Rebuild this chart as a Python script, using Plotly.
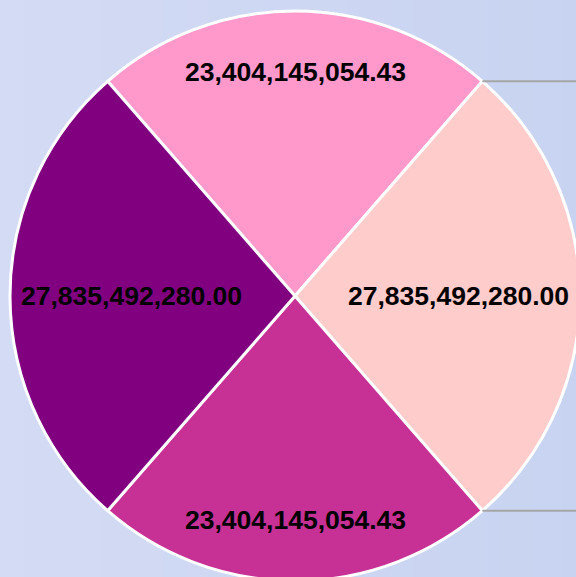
import math
import plotly.graph_objects as go

# ---- data ----
categories = ["Segment A", "Segment B", "Segment C", "Segment D"]
values = [23404145054.43, 27835492280.00, 23404145054.43, 27835492280.00]
slice_colors = ["#FF99CC", "#FFCCCC", "#C73094", "#800080"]
bg_left = "#D4DBF4"
bg_right = "#C7D3F1"

# ---- geometry (pixels, from top-left) ----
W, H = 600, 600
CX, CY, R = 295, 296, 285
FONT_SIZE = 26.5

total = sum(values)
rotation = -360.0 * values[0] / total / 2.0

fig = go.Figure()

# gradient background
fig.add_trace(go.Heatmap(
    z=[[0, 1], [0, 1]], x=[0, 1], y=[0, 1], zsmooth="best",
    colorscale=[[0, bg_left], [1, bg_right]], showscale=False,
    hoverinfo="skip", xaxis="x", yaxis="y"))

fig.add_trace(go.Pie(
    labels=categories, values=values, sort=False, direction="clockwise",
    rotation=rotation, textinfo="none", showlegend=False,
    marker=dict(colors=slice_colors, line=dict(color="white", width=3)),
    domain=dict(x=[(CX - R) / W, (CX + R) / W],
                y=[1 - (CY + R) / H, 1 - (CY - R) / H]),
    hoverinfo="label+value"))


def text_width(s, size):
    w = 0.0
    for ch in s:
        w += 0.556 if ch.isdigit() else 0.278
    return w * size


annotations = []
shapes = []
cum = 0.0
for i, v in enumerate(values):
    a0 = rotation + 360.0 * cum / total
    a1 = rotation + 360.0 * (cum + v) / total
    mid = math.radians((a0 + a1) / 2)
    txt = f"{v:,.2f}"
    tw = text_width(txt, FONT_SIZE)
    th = FONT_SIZE * 1.15
    sx, cy_ = math.sin(mid), -math.cos(mid)
    r_lab = min(0.785 * R, R - 11 - abs(sx) * tw / 2 - abs(cy_) * th / 2)
    px = CX + r_lab * sx
    py = CY + r_lab * cy_
    annotations.append(dict(
        x=px / W, y=1 - py / H, xref="paper", yref="paper",
        text=txt, showarrow=False, xanchor="center", yanchor="middle",
        font=dict(family="Arial, Liberation Sans, sans-serif",
                  size=FONT_SIZE, color="black", weight="bold")))
    cum += v

# leader lines leaving the right-hand slice boundaries
for k in (1, 2):
    ang = math.radians(rotation + 360.0 * sum(values[:k]) / total)
    bx = CX + R * math.sin(ang)
    by = CY - R * math.cos(ang)
    shapes.append(dict(type="line", xref="paper", yref="paper",
                       x0=bx / W, y0=1 - by / H, x1=1.0, y1=1 - by / H,
                       line=dict(color="#A6A6A6", width=2)))

fig.update_layout(
    width=W, height=H,
    margin=dict(l=0, r=0, t=0, b=0),
    paper_bgcolor=bg_right, plot_bgcolor=bg_right,
    xaxis=dict(visible=False, range=[0, 1], domain=[0, 1], fixedrange=True),
    yaxis=dict(visible=False, range=[0, 1], domain=[0, 1], fixedrange=True),
    annotations=annotations, shapes=shapes,
)

fig.write_html(
    "out.html",
    config={"displayModeBar": False},
    post_script="document.body.style.margin='0';document.body.style.overflow='hidden';document.documentElement.style.overflow='hidden';",
)
